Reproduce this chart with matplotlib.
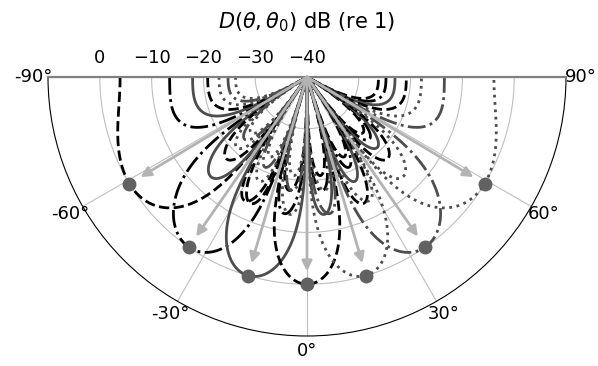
import numpy as np
import matplotlib
matplotlib.use("Agg")
import matplotlib.pyplot as plt

# continuous line aperture, length in wavelengths, steered beams
aperture = 3.5  # L / lambda
steer_deg = [-59.0, -34.8, -16.6, 0.0, 16.6, 34.8, 59.0]
colors = ["k", "k", "0.3", "k", "0.3", "0.3", "0.3"]
styles = ["--", "-.", "-", "--", ":", "-.", ":"]
r_ticks = [-40, -30, -20, -10, 0]
theta_ticks = [-90, -60, -30, 0, 30, 60, 90]
theta_labels = ["-90°", "-60°", "-30°", "0°", "30°", "60°", "90°"]
db_floor = -40


def directivity_db(theta, theta0, L):
    x = L * (np.sin(theta) - np.sin(theta0))
    d = np.abs(np.sinc(x))
    return 20 * np.log10(d + 1e-12)


theta = np.linspace(-np.pi / 2, np.pi / 2, 3000)

fig = plt.figure(figsize=(5.98, 3.66), dpi=100)
# square box: the half disc is centred in it
ax = fig.add_axes([48 / 598, -99.5 / 366, 518 / 598, 518 / 366], projection="polar")
ax.set_theta_zero_location("S")
ax.set_thetamin(-90)
ax.set_thetamax(90)

for th0, c, ls in zip(steer_deg, colors, styles):
    D = np.maximum(directivity_db(theta, np.deg2rad(th0), aperture), db_floor)
    ax.plot(theta, D, color=c, ls=ls, lw=2)

for th0 in steer_deg:
    t = np.deg2rad(th0)
    ax.annotate("", xy=(t, -2.5), xytext=(t, db_floor),
                arrowprops=dict(arrowstyle="-|>", color="0.7", lw=2,
                                mutation_scale=15, shrinkA=0, shrinkB=0))
    ax.plot(t, 0, "o", color="0.38", ms=9, zorder=5)

ax.set_rlim(db_floor, 10)
ax.set_rticks(r_ticks)
ax.set_thetagrids(theta_ticks, labels=theta_labels)
ax.grid(color="0.75", lw=0.8)
ax.tick_params(labelsize=13)
ax.tick_params(axis="x", pad=0)
ax.spines["polar"].set_color("k")
ax.spines["polar"].set_linewidth(0.8)
ax.spines["start"].set_color("0.5")
ax.spines["end"].set_color("0.5")
ax.spines["start"].set_linewidth(1.6)
ax.spines["end"].set_linewidth(1.6)

fig.text(307 / 598, 1 - 22 / 366, r"$D(\theta,\theta_0)$ dB (re 1)",
         ha="center", va="center", fontsize=15)

fig.savefig("out.png", dpi=100)
